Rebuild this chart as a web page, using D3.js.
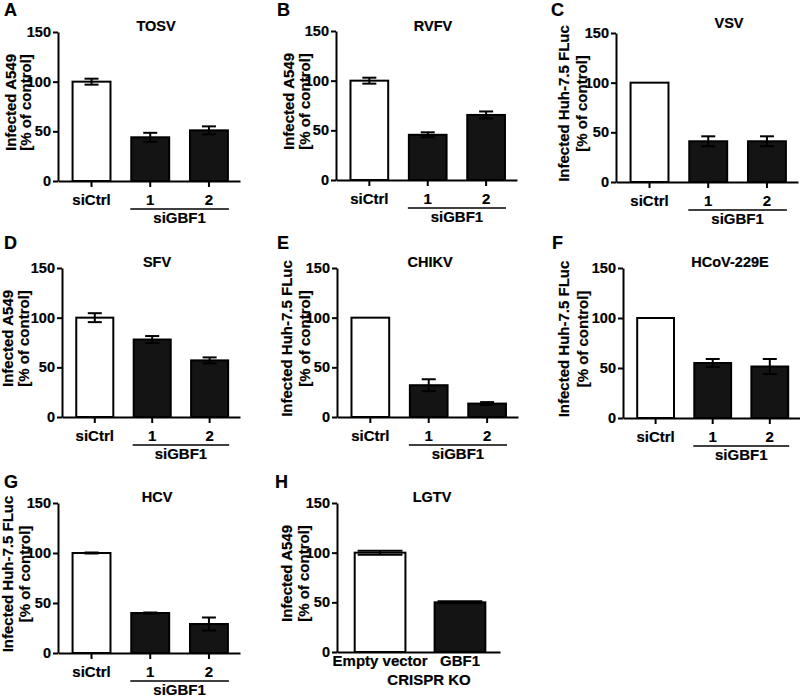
<!DOCTYPE html>
<html><head><meta charset="utf-8">
<script src="https://cdn.jsdelivr.net/npm/d3@7"></script>
<style>
html,body{margin:0;padding:0;background:#fff;}
svg{display:block;font-family:"Liberation Sans",Arial,sans-serif;font-weight:bold;}
svg text{fill:#000;stroke:#000;stroke-width:0.2px;}
</style></head>
<body><svg id="c" width="800" height="699"></svg>
<script>
// ---------- data ----------
const panelLetters = ["A","B","C","D","E","F","G","H"];
const virusTitles = ["TOSV","RVFV","VSV","SFV","CHIKV","HCoV-229E","HCV","LGTV"];
const yLabelLine1 = ["Infected A549","Infected A549","Infected Huh-7.5 FLuc","Infected A549",
  "Infected Huh-7.5 FLuc","Infected Huh-7.5 FLuc","Infected Huh-7.5 FLuc","Infected A549"];
const yLabelLine2 = "[% of control]";
const yTicks = [0, 50, 100, 150];
const siCategories = ["siCtrl","1","2"];
const siGroupLabel = "siGBF1";
const koCategories = ["Empty vector","GBF1"];
const koGroupLabel = "CRISPR KO";

const meanTOSV = [100, 44, 51];   const errTOSV = [3, 4.5, 4];
const meanRVFV = [100, 45.5, 65.5]; const errRVFV = [3, 2.5, 3.5];
const meanVSV  = [100, 41, 41];   const errVSV  = [0, 5, 5];
const meanSFV  = [100, 78, 57];   const errSFV  = [4.5, 3.5, 3];
const meanCHIKV= [100, 32, 13.5]; const errCHIKV= [0, 6, 1.5];
const meanHCoV = [100, 55, 51.5]; const errHCoV = [0, 4, 7.5];
const meanHCV  = [100, 40, 29];   const errHCV  = [0.5, 0.5, 6.5];
const meanLGTV = [100, 50];       const errLGTV = [2, 1];

const means = [meanTOSV, meanRVFV, meanVSV, meanSFV, meanCHIKV, meanHCoV, meanHCV, meanLGTV];
const errs  = [errTOSV, errRVFV, errVSV, errSFV, errCHIKV, errHCoV, errHCV, errLGTV];

// ---------- layout (pixels) ----------
const layout = [
  {ax:58,  ae:240, y0:181, y1:32,  tx:156, ty:31,  lx:4,   ly:16,  yl:[10,25]},
  {ax:336, ae:517, y0:180, y1:31,  tx:433, ty:31,  lx:277, ly:16,  yl:[288,304]},
  {ax:616, ae:798, y0:182, y1:33,  tx:729, ty:28,  lx:551, ly:16,  yl:[563,581]},
  {ax:62,  ae:240, y0:417, y1:268, tx:157, ty:267, lx:4,   ly:249, yl:[7,23]},
  {ax:337, ae:518, y0:417, y1:268, tx:430, ty:267, lx:277, ly:249, yl:[286,304]},
  {ax:623, ae:800, y0:418, y1:268, tx:730, ty:267, lx:552, ly:249, yl:[563,582]},
  {ax:58,  ae:240, y0:653, y1:503, tx:157, ty:502, lx:4,   ly:488, yl:[7,24]},
  {ax:337, ae:500, y0:652, y1:503, tx:432, ty:502, lx:275, ly:488, yl:[286,303], ko:true, gx:429}
];

const svg = d3.select("#c");
const FS = 14.5;
const FONT = "Liberation Sans, Arial, sans-serif";

layout.forEach((L, i) => {
  const g = svg.append("g");
  const cats = L.ko ? koCategories : siCategories;
  const y = d3.scaleLinear().domain([0, 150]).range([L.y0, L.y1]);
  const x = d3.scaleBand().domain(cats).range([L.ax, L.ae])
    .paddingInner(L.ko ? 0.34 : 0.32).paddingOuter(L.ko ? 0.19 : 0.21).align(0.55);

  // bars
  const data = cats.map((c, k) => ({c, v: means[i][k], e: errs[i][k], k}));
  g.selectAll("rect.bar").data(data).enter().append("rect")
    .attr("x", d => x(d.c) + 1).attr("width", x.bandwidth() - 2)
    .attr("y", d => y(d.v)).attr("height", d => y(0) - y(d.v))
    .attr("fill", d => d.k === 0 ? "#fff" : "#141414")
    .attr("stroke", "#000").attr("stroke-width", 2);

  // error bars
  const capW = L.ko ? x.bandwidth() * 0.85 : 14;
  const eb = g.selectAll("g.eb").data(data.filter(d => d.e > 0)).enter().append("g")
    .attr("stroke", "#000").attr("stroke-width", 2);
  eb.append("line").attr("x1", d => x(d.c) + x.bandwidth()/2).attr("x2", d => x(d.c) + x.bandwidth()/2)
    .attr("y1", d => y(d.v + d.e)).attr("y2", d => y(d.v - d.e));
  eb.append("line").attr("x1", d => x(d.c) + x.bandwidth()/2 - capW/2).attr("x2", d => x(d.c) + x.bandwidth()/2 + capW/2)
    .attr("y1", d => y(d.v + d.e)).attr("y2", d => y(d.v + d.e));
  eb.append("line").attr("x1", d => x(d.c) + x.bandwidth()/2 - capW/2).attr("x2", d => x(d.c) + x.bandwidth()/2 + capW/2)
    .attr("y1", d => y(d.v - d.e)).attr("y2", d => y(d.v - d.e));

  // y axis
  const ya = g.append("g").attr("transform", `translate(${L.ax},0)`)
    .call(d3.axisLeft(y).tickValues(yTicks).tickSize(5).tickSizeOuter(0).tickPadding(2));
  ya.select(".domain").attr("stroke-width", 2);
  ya.selectAll(".tick line").attr("stroke-width", 2);
  ya.selectAll("text").attr("font-size", FS).attr("font-weight", "bold").attr("font-family", FONT);

  // x axis
  const xa = g.append("g").attr("transform", `translate(0,${L.y0})`)
    .call(d3.axisBottom(x).tickSize(L.ko ? 0 : 6).tickSizeOuter(0).tickPadding(L.ko ? 3 : 7));
  xa.select(".domain").attr("stroke-width", 2);
  xa.selectAll(".tick line").attr("stroke-width", 2);
  xa.selectAll("text").attr("font-size", 15).attr("font-weight", "bold").attr("font-family", FONT);

  // group label
  if (!L.ko) {
    const gx0 = x("1"), gx1 = x("2") + x.bandwidth();
    g.append("line").attr("x1", gx0).attr("x2", gx1).attr("y1", L.y0 + 28).attr("y2", L.y0 + 28)
      .attr("stroke", "#000").attr("stroke-width", 1.5);
    g.append("text").attr("x", (gx0 + gx1)/2).attr("y", L.y0 + 42).attr("text-anchor", "middle")
      .attr("font-size", 15).text(siGroupLabel);
  } else {
    g.append("text").attr("x", L.gx).attr("y", L.y0 + 33).attr("text-anchor", "middle")
      .attr("font-size", 15).text(koGroupLabel);
  }

  // title
  g.append("text").attr("x", L.tx).attr("y", L.ty).attr("text-anchor", "middle")
    .attr("font-size", 14.5).text(virusTitles[i]);

  // panel letter
  g.append("text").attr("x", L.lx).attr("y", L.ly).attr("font-size", 18).text(panelLetters[i]);

  // y label
  const cy = (L.y0 + L.y1)/2 - 4;
  [yLabelLine1[i], yLabelLine2].forEach((t, j) => {
    g.append("text").attr("transform", `translate(${L.yl[j]},${cy}) rotate(-90)`)
      .attr("text-anchor", "middle").attr("dominant-baseline", "central")
      .attr("font-size", 15).text(t);
  });
});
</script></body></html>
